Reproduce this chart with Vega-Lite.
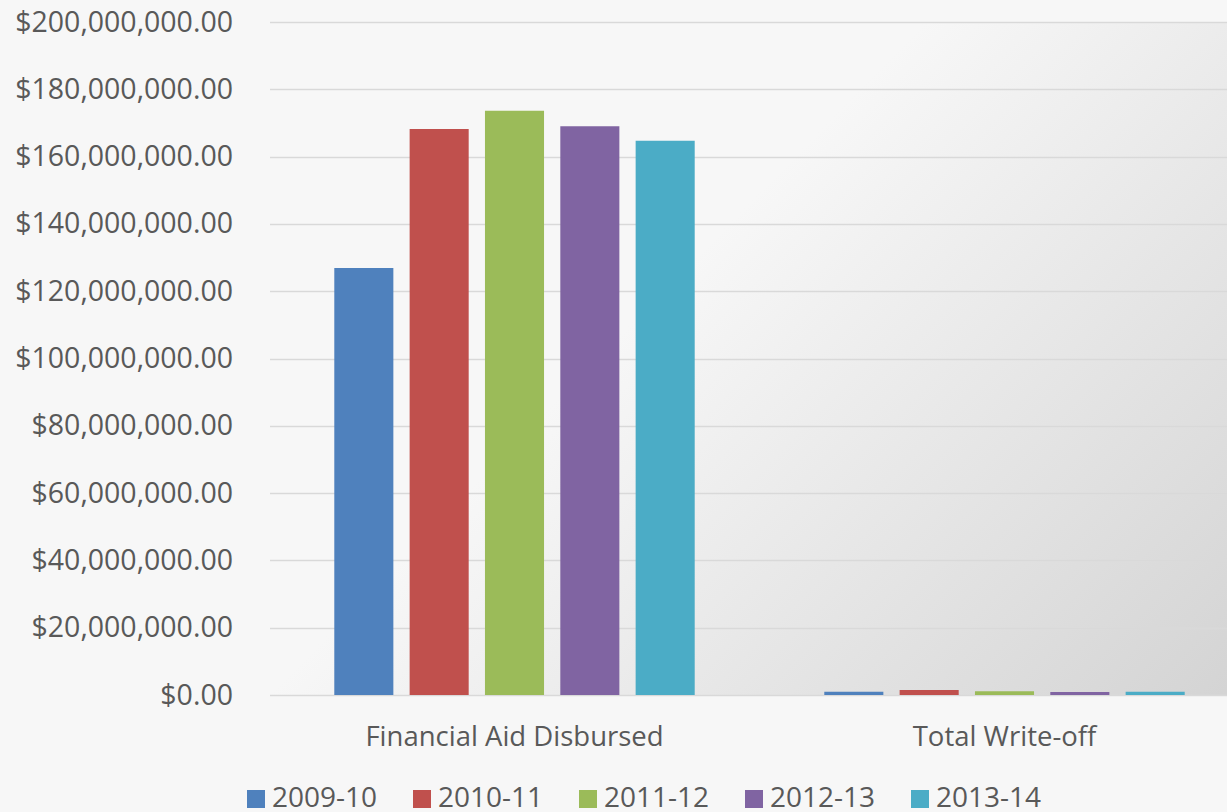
{
  "$schema": "https://vega.github.io/schema/vega-lite/v6.json",
  "autosize": {"type": "none"},
  "padding": {"left": 269.5, "top": 22, "right": 0, "bottom": 117},
  "width": 957.5,
  "height": 673,
  "background": "#f7f7f7",
  "config": {
    "font": "Open Sans",
    "view": {
      "stroke": null,
      "fill": {
        "gradient": "linear",
        "x1": 0.35, "y1": 0.488,
        "x2": 1.067, "y2": 0.979,
        "stops": [
          {"offset": 0, "color": "#f7f7f7"},
          {"offset": 1, "color": "#d2d2d2"}
        ]
      }
    }
  },
  "data": {
    "values": [
      {"category": "Financial Aid Disbursed", "year": "2009-10", "amount": 126900000},
      {"category": "Financial Aid Disbursed", "year": "2010-11", "amount": 168200000},
      {"category": "Financial Aid Disbursed", "year": "2011-12", "amount": 173600000},
      {"category": "Financial Aid Disbursed", "year": "2012-13", "amount": 169000000},
      {"category": "Financial Aid Disbursed", "year": "2013-14", "amount": 164700000},
      {"category": "Total Write-off", "year": "2009-10", "amount": 1000000},
      {"category": "Total Write-off", "year": "2010-11", "amount": 1500000},
      {"category": "Total Write-off", "year": "2011-12", "amount": 1100000},
      {"category": "Total Write-off", "year": "2012-13", "amount": 900000},
      {"category": "Total Write-off", "year": "2013-14", "amount": 1000000}
    ]
  },
  "mark": {"type": "bar"},
  "encoding": {
    "x": {
      "field": "category",
      "type": "nominal",
      "sort": null,
      "scale": {"range": [0, 980], "paddingInner": 0, "paddingOuter": 0},
      "axis": {
        "title": null,
        "labelAngle": 0,
        "labelFontSize": 27.5,
        "labelColor": "#595959",
        "labelPadding": 28,
        "labelLimit": 0,
        "ticks": false,
        "domain": false
      }
    },
    "xOffset": {
      "field": "year",
      "type": "nominal",
      "sort": null,
      "scale": {"paddingInner": 0.216, "paddingOuter": 0.86}
    },
    "y": {
      "field": "amount",
      "type": "quantitative",
      "scale": {"domain": [0, 200000000], "nice": false},
      "axis": {
        "title": null,
        "values": [0, 20000000, 40000000, 60000000, 80000000, 100000000, 120000000, 140000000, 160000000, 180000000, 200000000],
        "format": "$,.2f",
        "labelFontSize": 28.5,
        "labelColor": "#595959",
        "labelPadding": 37,
        "labelLimit": 0,
        "ticks": false,
        "domain": false,
        "gridColor": "#d9d9d9",
        "gridWidth": 1.6
      }
    },
    "color": {
      "field": "year",
      "type": "nominal",
      "sort": null,
      "scale": {
        "domain": ["2009-10", "2010-11", "2011-12", "2012-13", "2013-14"],
        "range": ["#4f81bd", "#c0504d", "#9bbb59", "#8064a2", "#4bacc6"]
      },
      "legend": {
        "title": null,
        "orient": "none",
        "direction": "horizontal",
        "legendX": -27.5,
        "legendY": 763,
        "symbolType": "square",
        "symbolSize": 324,
        "symbolStrokeWidth": 0,
        "labelFontSize": 28,
        "labelColor": "#595959",
        "labelOffset": 2,
        "labelLimit": 0,
        "columnPadding": 30
      }
    }
  }
}
